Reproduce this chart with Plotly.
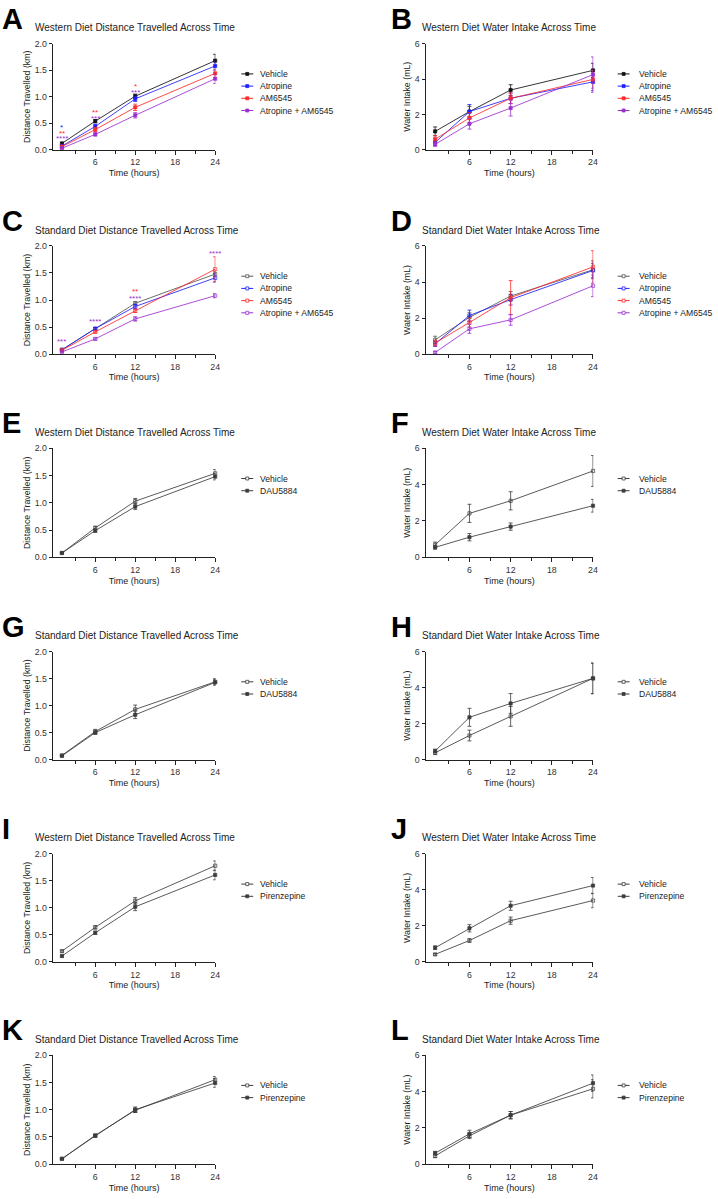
import plotly.graph_objects as go

W, H = 718, 1199
FONT = "Liberation Sans, Arial, Helvetica, sans-serif"

# ---------------- data ----------------
TIME = [1, 6, 12, 24]
X_MAJOR = [6, 12, 18, 24]
X_MINOR = [3, 9, 15, 21]
DIST_TICKS = [0.0, 0.5, 1.0, 1.5, 2.0]
WATER_TICKS = [0, 2, 4, 6]

# A: Western diet distance (km)
A_VEH = [0.12, 0.54, 1.01, 1.68];   A_VEH_ERR = [0.02, 0.03, 0.04, 0.12]
A_ATR = [0.07, 0.44, 0.96, 1.58];   A_ATR_ERR = [0.02, 0.04, 0.05, 0.08]
A_AM = [0.06, 0.38, 0.80, 1.44];    A_AM_ERR = [0.02, 0.04, 0.06, 0.08]
A_COMBO = [0.03, 0.29, 0.65, 1.34]; A_COMBO_ERR = [0.01, 0.03, 0.05, 0.09]
# B: Western diet water (mL)
B_VEH = [1.04, 2.16, 3.38, 4.49];   B_VEH_ERR = [0.25, 0.30, 0.30, 0.40]
B_ATR = [0.42, 2.16, 2.91, 3.84];   B_ATR_ERR = [0.20, 0.40, 0.30, 0.50]
B_AM = [0.60, 1.80, 2.91, 3.98];    B_AM_ERR = [0.20, 0.30, 0.30, 0.50]
B_COMBO = [0.31, 1.47, 2.36, 4.25]; B_COMBO_ERR = [0.10, 0.30, 0.45, 1.00]
# C: Standard diet distance
C_VEH = [0.08, 0.47, 0.94, 1.48];   C_VEH_ERR = [0.01, 0.02, 0.03, 0.05]
C_ATR = [0.08, 0.47, 0.88, 1.41];   C_ATR_ERR = [0.01, 0.02, 0.04, 0.08]
C_AM = [0.07, 0.41, 0.80, 1.57];    C_AM_ERR = [0.01, 0.02, 0.03, 0.23]
C_COMBO = [0.04, 0.28, 0.65, 1.08]; C_COMBO_ERR = [0.01, 0.02, 0.04, 0.04]
# D: Standard diet water
D_VEH = [0.79, 2.04, 3.22, 4.68];   D_VEH_ERR = [0.20, 0.25, 0.25, 0.50]
D_ATR = [0.57, 2.14, 3.02, 4.64];   D_ATR_ERR = [0.15, 0.30, 0.30, 0.40]
D_AM = [0.61, 1.75, 3.13, 4.84];    D_AM_ERR = [0.15, 0.25, 0.95, 0.90]
D_COMBO = [0.09, 1.40, 1.90, 3.79]; D_COMBO_ERR = [0.05, 0.25, 0.30, 0.60]
# E-H: DAU5884
E_VEH = [0.08, 0.54, 1.03, 1.54];   E_VEH_ERR = [0.01, 0.03, 0.05, 0.07]
E_DAU = [0.08, 0.49, 0.93, 1.48];   E_DAU_ERR = [0.01, 0.03, 0.05, 0.06]
F_VEH = [0.69, 2.42, 3.11, 4.75];   F_VEH_ERR = [0.15, 0.50, 0.50, 0.85]
F_DAU = [0.55, 1.11, 1.69, 2.84];   F_DAU_ERR = [0.10, 0.20, 0.20, 0.35]
G_VEH = [0.08, 0.52, 0.93, 1.44];   G_VEH_ERR = [0.01, 0.04, 0.08, 0.06]
G_DAU = [0.07, 0.50, 0.83, 1.43];   G_DAU_ERR = [0.01, 0.03, 0.07, 0.05]
H_VEH = [0.38, 1.34, 2.40, 4.51];   H_VEH_ERR = [0.10, 0.30, 0.55, 0.85]
H_DAU = [0.48, 2.35, 3.12, 4.51];   H_DAU_ERR = [0.10, 0.50, 0.55, 0.85]
# I-L: Pirenzepine
I_VEH = [0.20, 0.64, 1.13, 1.78];   I_VEH_ERR = [0.02, 0.03, 0.06, 0.09]
I_PIR = [0.11, 0.54, 1.02, 1.61];   I_PIR_ERR = [0.02, 0.03, 0.07, 0.09]
J_VEH = [0.42, 1.19, 2.29, 3.41];   J_VEH_ERR = [0.05, 0.10, 0.20, 0.40]
J_PIR = [0.79, 1.87, 3.12, 4.24];   J_PIR_ERR = [0.10, 0.20, 0.25, 0.45]
K_VEH = [0.10, 0.53, 0.99, 1.55];   K_VEH_ERR = [0.01, 0.02, 0.04, 0.06]
K_PIR = [0.10, 0.52, 1.00, 1.49];   K_PIR_ERR = [0.01, 0.02, 0.05, 0.08]
L_VEH = [0.46, 1.56, 2.70, 4.15];   L_VEH_ERR = [0.10, 0.15, 0.20, 0.50]
L_PIR = [0.61, 1.67, 2.70, 4.46];   L_PIR_ERR = [0.10, 0.20, 0.20, 0.45]

# significance stars (time, level, text, colour key)
A_STAR_T = [1, 1, 1, 6, 6, 12, 12]
A_STAR_Y = [0.46, 0.35, 0.24, 0.73, 0.63, 1.22, 1.12]
A_STAR_TXT = ["*", "**", "****", "**", "***", "*", "***"]
A_STAR_COL = ["atr", "am", "combo", "am", "combo", "am", "combo"]
C_STAR_T = [1, 6, 12, 12, 24]
C_STAR_Y = [0.27, 0.64, 1.19, 1.06, 1.89]
C_STAR_TXT = ["***", "****", "**", "****", "****"]
C_STAR_COL = ["combo", "combo", "am", "combo", "combo"]

# ---------------- styles ----------------
COL = {"veh": "#111111", "veh2": "#555555", "atr": "#2020ff", "am": "#ff2a2a",
       "combo": "#9b30d0", "grey": "#3c3c3c"}

DIST_Y = "Distance Travelled (km)"
WATER_Y = "Water Intake (mL)"
WD = "Western Diet"
SD = "Standard Diet"


def four(v, a, m, c, sym, vehcol):
    return [("Vehicle", v[0], v[1], vehcol, sym),
            ("Atropine", a[0], a[1], COL["atr"], sym),
            ("AM6545", m[0], m[1], COL["am"], sym),
            ("Atropine + AM6545", c[0], c[1], COL["combo"], sym)]


def two(v, d, name):
    return [("Vehicle", v[0], v[1], COL["grey"], "square-open"),
            (name, d[0], d[1], COL["grey"], "square")]


PANELS = [
    ("A", WD + " Distance Travelled Across Time", "dist",
     four((A_VEH, A_VEH_ERR), (A_ATR, A_ATR_ERR), (A_AM, A_AM_ERR), (A_COMBO, A_COMBO_ERR), "square", COL["veh"]),
     (A_STAR_T, A_STAR_Y, A_STAR_TXT, A_STAR_COL)),
    ("B", WD + " Water Intake Across Time", "water",
     four((B_VEH, B_VEH_ERR), (B_ATR, B_ATR_ERR), (B_AM, B_AM_ERR), (B_COMBO, B_COMBO_ERR), "square", COL["veh"]),
     None),
    ("C", SD + " Distance Travelled Across Time", "dist",
     four((C_VEH, C_VEH_ERR), (C_ATR, C_ATR_ERR), (C_AM, C_AM_ERR), (C_COMBO, C_COMBO_ERR), "square-open", COL["veh2"]),
     (C_STAR_T, C_STAR_Y, C_STAR_TXT, C_STAR_COL)),
    ("D", SD + " Water Intake Across Time", "water",
     four((D_VEH, D_VEH_ERR), (D_ATR, D_ATR_ERR), (D_AM, D_AM_ERR), (D_COMBO, D_COMBO_ERR), "square-open", COL["veh2"]),
     None),
    ("E", WD + " Distance Travelled Across Time", "dist", two((E_VEH, E_VEH_ERR), (E_DAU, E_DAU_ERR), "DAU5884"), None),
    ("F", WD + " Water Intake Across Time", "water", two((F_VEH, F_VEH_ERR), (F_DAU, F_DAU_ERR), "DAU5884"), None),
    ("G", SD + " Distance Travelled Across Time", "dist", two((G_VEH, G_VEH_ERR), (G_DAU, G_DAU_ERR), "DAU5884"), None),
    ("H", SD + " Water Intake Across Time", "water", two((H_VEH, H_VEH_ERR), (H_DAU, H_DAU_ERR), "DAU5884"), None),
    ("I", WD + " Distance Travelled Across Time", "dist", two((I_VEH, I_VEH_ERR), (I_PIR, I_PIR_ERR), "Pirenzepine"), None),
    ("J", WD + " Water Intake Across Time", "water", two((J_VEH, J_VEH_ERR), (J_PIR, J_PIR_ERR), "Pirenzepine"), None),
    ("K", SD + " Distance Travelled Across Time", "dist", two((K_VEH, K_VEH_ERR), (K_PIR, K_PIR_ERR), "Pirenzepine"), None),
    ("L", SD + " Water Intake Across Time", "water", two((L_VEH, L_VEH_ERR), (L_PIR, L_PIR_ERR), "Pirenzepine"), None),
]

# ---------------- geometry (pixels) ----------------
ROW_TOP = [39, 243, 447, 652, 856, 1059]
ROW_BOT = [146, 352, 557, 761, 965, 1169]
COL_X = [(53, 217), (428.5, 597.5)]
TITLE_X = [33, 423]
LETTER_X = [0, 392]
LEG_GLYPH = [(243, 255), (622, 634)]
LEG_TEXT_X = [260, 641]


def fx(px):
    return px / W


def fy(py):
    return 1 - py / H


fig = go.Figure()
layout = dict(width=W, height=H, margin=dict(l=0, r=0, t=0, b=0),
              paper_bgcolor="white", plot_bgcolor="white", showlegend=False,
              font=dict(family=FONT, size=9, color="#222"))
annotations = []
shapes = []

for p, (letter, title, kind, series, stars) in enumerate(PANELS):
    n = p + 1
    r, c = divmod(p, 2)
    x0, x1 = COL_X[c]
    top, bot = ROW_TOP[r], ROW_BOT[r]
    xk = "xaxis" if n == 1 else f"xaxis{n}"
    yk = "yaxis" if n == 1 else f"yaxis{n}"
    xr = "x" if n == 1 else f"x{n}"
    yr = "y" if n == 1 else f"y{n}"
    is_dist = kind == "dist"

    layout[xk] = dict(domain=[fx(x0), fx(x1)], anchor=yr, range=[-0.4, 24.05],
                      tickmode="array", tickvals=X_MAJOR, ticktext=[str(v) for v in X_MAJOR],
                      ticks="outside", ticklen=4, tickwidth=1, tickcolor="#222",
                      minor=dict(tickmode="array", tickvals=X_MINOR, ticks="outside",
                                 ticklen=3, tickwidth=1, tickcolor="#222", showgrid=False),
                      showline=True, linecolor="#222", linewidth=1, showgrid=False, zeroline=False,
                      tickfont=dict(size=8.8, color="#333", family=FONT),
                      title=dict(text="Time (hours)", standoff=3, font=dict(size=9, color="#222", family=FONT)))
    layout[yk] = dict(domain=[fy(bot), fy(top)], anchor=xr,
                      range=[0, 2.0] if is_dist else [0, 6],
                      tickmode="array", tickvals=DIST_TICKS if is_dist else WATER_TICKS,
                      tickformat=".1f" if is_dist else "d",
                      ticks="outside", ticklen=3, tickwidth=1, tickcolor="#222",
                      showline=True, linecolor="#222", linewidth=1, showgrid=False, zeroline=False,
                      tickfont=dict(size=8.8, color="#333", family=FONT),
                      title=dict(text=DIST_Y if is_dist else WATER_Y, standoff=2,
                                 font=dict(size=8.8, color="#222", family=FONT)))

    for k, (name, vals, errs, color, sym) in enumerate(series):
        fig.add_trace(go.Scatter(
            x=TIME, y=vals, name=name, mode="lines+markers", xaxis=xr, yaxis=yr,
            line=dict(color=color, width=0.85),
            marker=dict(symbol=sym, size=3.2, color=color, line=dict(color=color, width=0.7)),
            error_y=dict(type="data", array=errs, visible=True, width=2, thickness=0.8, color=color),
            cliponaxis=False, showlegend=False))
        # legend entry
        ly = top + 30.5 + 12.3 * k
        g0, g1 = LEG_GLYPH[c]
        gm = (g0 + g1) / 2
        shapes.append(dict(type="line", xref="paper", yref="paper", x0=fx(g0), x1=fx(g1),
                           y0=fy(ly), y1=fy(ly), line=dict(color=color, width=1)))
        s = 1.5
        shapes.append(dict(type="rect", xref="paper", yref="paper", x0=fx(gm - s), x1=fx(gm + s),
                           y0=fy(ly + s), y1=fy(ly - s),
                           fillcolor="white" if sym.endswith("open") else color,
                           line=dict(color=color, width=0.8)))
        annotations.append(dict(text=name, xref="paper", yref="paper", x=fx(LEG_TEXT_X[c]), y=fy(ly),
                                xanchor="left", yanchor="middle", showarrow=False,
                                font=dict(size=8.6, color="#222", family=FONT)))

    if stars is not None:
        st, sy, stxt, scol = stars
        for t, yv, txt, ck in zip(st, sy, stxt, scol):
            annotations.append(dict(text=txt, xref=xr, yref=yr, x=t, y=yv - 0.035,
                                    xanchor="center", yanchor="middle", showarrow=False,
                                    font=dict(size=8, color=COL[ck], family=FONT)))

    # title & letter
    annotations.append(dict(text=title, xref="paper", yref="paper", x=fx(TITLE_X[c]), y=fy(top - 16),
                            xanchor="left", yanchor="middle", showarrow=False,
                            font=dict(size=10, color="#222", family=FONT)))
    annotations.append(dict(text=f"<b>{letter}</b>", xref="paper", yref="paper",
                            x=fx(LETTER_X[c]), y=fy(top - 25),
                            xanchor="left", yanchor="middle", showarrow=False,
                            font=dict(size=29, color="#000", family=FONT)))

layout["annotations"] = annotations
layout["shapes"] = shapes
fig.update_layout(**layout)
fig.write_html("out.html", config={"displayModeBar": False},
               post_script="document.body.style.margin='0px';document.body.style.overflow='hidden';")
